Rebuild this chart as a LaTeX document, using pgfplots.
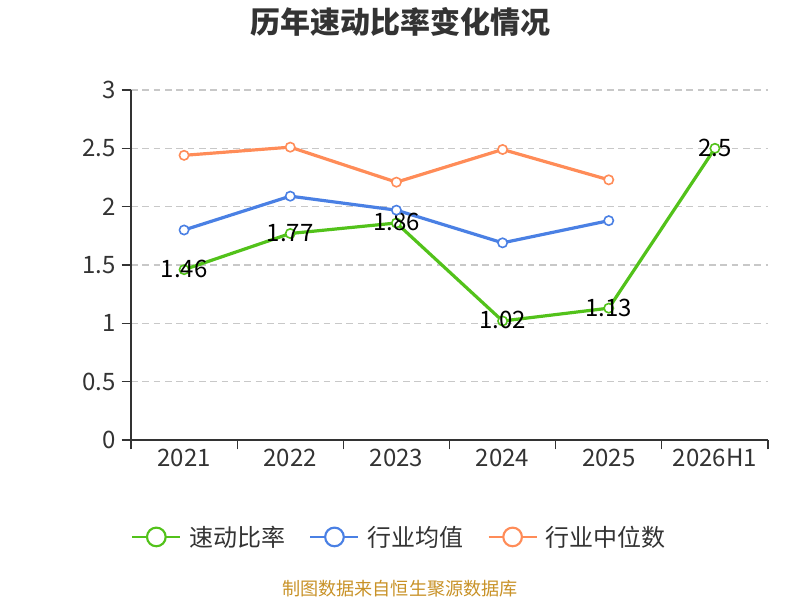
\documentclass[border=0pt]{standalone}
\usepackage{pgfplots}
\pgfplotsset{compat=1.18}
\usepackage{fontspec}
\setmainfont{Noto Sans CJK SC}
\definecolor{cg}{RGB}{82,194,26}
\definecolor{cb}{RGB}{74,128,228}
\definecolor{co}{RGB}{255,140,88}
\definecolor{txt}{RGB}{51,51,51}
\definecolor{src}{RGB}{200,146,40}
\definecolor{gridc}{RGB}{200,200,200}
\begin{document}
\begin{tikzpicture}[x=0.75pt,y=0.75pt]
\path[use as bounding box] (0,0) rectangle (800,600);
\begin{axis}[
  at={(98.25pt,120pt)}, anchor=south west,
  scale only axis, width=477.75pt, height=262.5pt,
  xmin=-0.5, xmax=5.5, ymin=0, ymax=3,
  xtick={-0.5,0.5,1.5,2.5,3.5,4.5,5.5},
  xticklabels={},
  extra x ticks={0,1,2,3,4,5},
  extra x tick labels={2021,2022,2023,2024,2025,2026H1},
  extra x tick style={major tick length=0pt},
  ytick={0,0.5,1,1.5,2,2.5,3},
  yticklabels={0,0.5,1,1.5,2,2.5,3},
  axis lines*=left,
  axis line style={txt, line width=0.8pt, -},
  every tick/.style={txt, line width=0.8pt},
  major tick length=7pt,
  tick align=outside,
  ymajorgrids,
  grid style={gridc, line width=0.9pt, dash pattern=on 5pt off 3.5pt},
  ticklabel style={font=\fontsize{18}{18}\selectfont, text=txt},
  xticklabel style={yshift=-3pt},
  yticklabel style={xshift=-1pt},
  /pgf/number format/assume math mode=true,
  clip=false,
  legend columns=3,
  legend style={at={(0.422,-0.277)}, anchor=center, draw=none, fill=none,
    font=\fontsize{18}{18}\selectfont, text=txt,
    /tikz/every odd column/.append style={column sep=4pt},
    /tikz/every even column/.append style={column sep=16pt}},
  legend image code/.code={
    \draw[#1, mark=none, line width=1.6pt] (0,0) -- (36pt,0);
    \draw[#1, fill=white, line width=1.6pt] (18pt,0) circle (7pt);
  },
]
\addplot[cg, line width=2.4pt, mark=*, mark size=3.5pt, mark options={fill=white, line width=1.2pt},
  nodes near coords, point meta=explicit symbolic,
  every node near coord/.append style={anchor=center, yshift=0.5pt, text=black, font=\fontsize{18}{18}\selectfont}]
  coordinates {(0,1.46)[1.46] (1,1.77)[1.77] (2,1.86)[1.86] (3,1.02)[1.02] (4,1.13)[1.13] (5,2.5)[2.5]};
\addlegendentry{速动比率}
\addplot[cb, line width=2.4pt, mark=*, mark size=3.5pt, mark options={fill=white, line width=1.2pt}]
  coordinates {(0,1.80) (1,2.09) (2,1.97) (3,1.69) (4,1.88)};
\addlegendentry{行业均值}
\addplot[co, line width=2.4pt, mark=*, mark size=3.5pt, mark options={fill=white, line width=1.2pt}]
  coordinates {(0,2.44) (1,2.51) (2,2.21) (3,2.49) (4,2.23)};
\addlegendentry{行业中位数}
\end{axis}
\node[font=\fontsize{22.5}{22.5}\selectfont\bfseries, text=txt] at (400,578) {历年速动比率变化情况};
\node[font=\fontsize{13.6}{13.6}\selectfont, text=src] at (400,11) {制图数据来自恒生聚源数据库};
\end{tikzpicture}
\end{document}
